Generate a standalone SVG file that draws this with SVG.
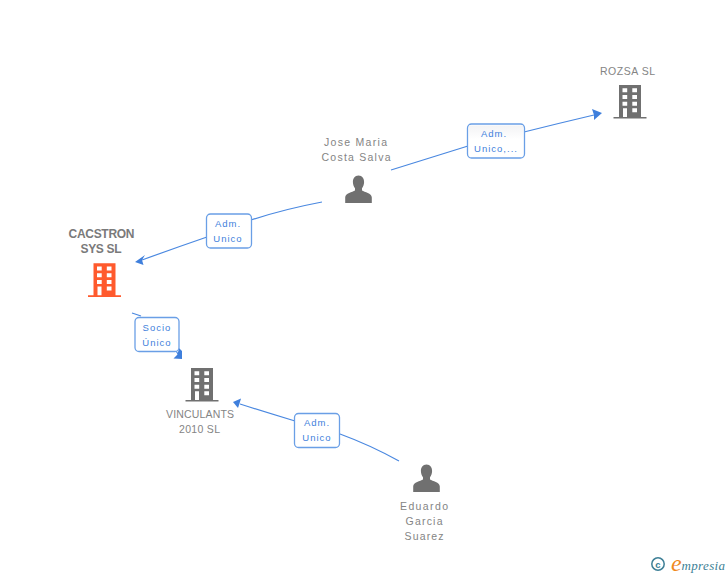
<svg xmlns="http://www.w3.org/2000/svg" width="728" height="575" viewBox="0 0 728 575">
<style>
text{font-family:"Liberation Sans",Arial,sans-serif}
.n{font-size:10.500px;fill:#848484;text-anchor:middle}
.b{font-size:12px;font-weight:bold;fill:#7a7a7a;text-anchor:middle}
.l{font-size:9.500px;fill:#3f7fdc;text-anchor:middle;letter-spacing:1px}
.c{fill:none;stroke:#4a88e0;stroke-width:1.200}
.a{fill:#3f7fdc}
.box{fill:#fff;stroke:#6a9fe6;stroke-width:1.300}
.w{fill:#fff}
</style>
<defs>
<linearGradient id="g" x1="0" y1="0" x2="0" y2="1"><stop offset="0" stop-color="#f3f3f5"/><stop offset="1" stop-color="#fff"/></linearGradient>
<g id="bld">
<path d="M0 0H22V32H27.500V33.600H-5.500V32H0Z"/>
<path class="w" d="M3.500 3.300h4.700v4h-4.700zM13.300 3.300h4.700v4h-4.700zM3.500 10h4.700v4h-4.700zM13.300 10h4.700v4h-4.700zM3.500 16.700h4.700v4h-4.700zM13.300 16.700h4.700v4h-4.700zM13.300 23.300h4.700v4h-4.700zM4 23.300h4v8.700h-4z"/>
</g>
<path id="usr" d="M0 -27.500C3.800 -27.500 5.600 -24.500 5.600 -21C5.600 -18.500 4.700 -16.300 3.500 -14.800V-12.500C6 -10.800 13.300 -10 13.300 -5.500V0H-13.300V-5.500C-13.300 -10 -6 -10.800 -3.500 -12.500V-14.800C-4.700 -16.300 -5.600 -18.500 -5.600 -21C-5.600 -24.500 -3.800 -27.500 0 -27.500Z"/>
</defs>
<rect width="728" height="575" fill="#fff"/>
<g id="connectors">
<path class="c" d="M391 170Q430 158 468 146"/>
<path class="c" d="M524 132Q560 123 594 115"/>
<path class="a" d="M602 113L592 109L594 115L594 120Z"/>
<path class="c" d="M322 202Q285 209 251 220"/>
<path class="c" d="M207 237Q175 248 142 260"/>
<path class="a" d="M135 262L145 255L142 260L143.500 265Z"/>
<path class="c" d="M132 313L141 316"/>
<path class="c" d="M172 345L180 357"/>
<path class="a" d="M182 359L173.500 358.500L177.500 354.500L179 348L182 351Z"/>
<path class="c" d="M399 461Q370 445 340 434"/>
<path class="c" d="M295 421Q265 412 240 404"/>
<path class="a" d="M233 402L241 398.500L239.500 403.500L238 408Z"/>
</g>
<g id="label-rozsa-link"><rect class="box" x="467.500" y="124" width="57" height="34" rx="4"/><rect x="469" y="125.500" width="54" height="14" fill="url(#g)"/><text class="l" x="494" y="137">Adm.</text><text class="l" x="496" y="152">Unico,...</text></g>
<g id="label-cacstron-link"><rect class="box" x="206.500" y="214" width="45" height="34" rx="4"/><text class="l" x="228" y="227">Adm.</text><text class="l" x="228" y="242">Unico</text></g>
<g id="label-socio-link"><rect class="box" x="135" y="317.500" width="44" height="34" rx="4"/><text class="l" x="157" y="331">Socio</text><text class="l" x="157" y="346">Único</text></g>
<g id="label-vinculants-link"><rect class="box" x="294.500" y="413.500" width="45" height="34" rx="4"/><text class="l" x="317" y="426">Adm.</text><text class="l" x="317" y="441">Unico</text></g>
<g id="node-rozsa"><text class="n" x="627.500" y="75" textLength="55" lengthAdjust="spacing">ROZSA SL</text><use href="#bld" x="619" y="85" fill="#707070"/></g>
<g id="node-jose"><text class="n" x="355.500" y="146" textLength="63" lengthAdjust="spacing">Jose Maria</text><text class="n" x="356" y="161" textLength="69" lengthAdjust="spacing">Costa Salva</text><use href="#usr" x="358.500" y="203" fill="#707070"/></g>
<g id="node-cacstron"><text class="b" x="101.500" y="238" textLength="66" lengthAdjust="spacing">CACSTRON</text><text class="b" x="101" y="253" textLength="41" lengthAdjust="spacing">SYS SL</text><use href="#bld" x="93.500" y="263.300" fill="#ff5a2d"/></g>
<g id="node-vinculants"><use href="#bld" x="191" y="368" fill="#707070"/><text class="n" x="200" y="418" textLength="68" lengthAdjust="spacing">VINCULANTS</text><text class="n" x="199.500" y="433" textLength="41" lengthAdjust="spacing">2010 SL</text></g>
<g id="node-eduardo"><use href="#usr" x="426.500" y="492" fill="#707070"/><text class="n" x="424" y="510" textLength="48" lengthAdjust="spacing">Eduardo</text><text class="n" x="424" y="525" textLength="37" lengthAdjust="spacing">Garcia</text><text class="n" x="424" y="540" textLength="39" lengthAdjust="spacing">Suarez</text></g>
<g id="logo"><circle cx="658" cy="564" r="6.200" fill="none" stroke="#3d7f96" stroke-width="1.500"/><text x="658" y="567.500" font-size="9.500" font-weight="bold" fill="#3d7f96" text-anchor="middle">c</text><text x="671" y="571" font-size="24" font-style="italic" fill="#f08a1d" style="font-family:'Liberation Serif',serif">e</text><text x="681.500" y="570" font-size="13" font-style="italic" fill="#3d7f96" textLength="43.500" lengthAdjust="spacing" style="font-family:'Liberation Serif',serif">mpresia</text></g>
</svg>
